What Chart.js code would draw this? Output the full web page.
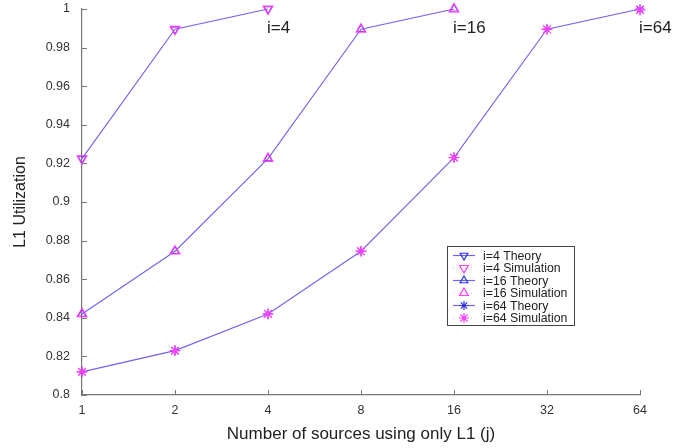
<!DOCTYPE html>
<html><head><meta charset="utf-8">
<script src="https://cdn.jsdelivr.net/npm/chart.js@4.4.1/dist/chart.umd.min.js"></script>
<style>html,body{margin:0;padding:0;background:#fff;}#wrap{width:688px;height:448px;position:relative;}</style>
</head><body><div id="wrap"><canvas id="c" width="688" height="448"></canvas></div>
<script>
const xLabels = ['1','2','4','8','16','32','64'];
const yTickValues = [0.8,0.82,0.84,0.86,0.88,0.9,0.92,0.94,0.96,0.98,1];
const yTickLabels = ['0.8','0.82','0.84','0.86','0.88','0.9','0.92','0.94','0.96','0.98','1'];
const theory4 = [0.9225, 0.9895, 1.0];
const sim4 = [0.9225, 0.9895, 1.0];
const theory16 = [0.842, 0.8745, 0.9225, 0.9895, 1.0];
const sim16 = [0.842, 0.8745, 0.9225, 0.9895, 1.0];
const theory64 = [0.812, 0.823, 0.842, 0.8745, 0.923, 0.9895, 1.0];
const sim64 = [0.812, 0.823, 0.842, 0.8745, 0.923, 0.9895, 0.9995];
const annotations = [
  {text:'i=4', x:'4', y:0.99},
  {text:'i=16', x:'16', y:0.99},
  {text:'i=64', x:'64', y:0.99}
];
const seriesNames = ['i=4 Theory','i=4 Simulation','i=16 Theory','i=16 Simulation','i=64 Theory','i=64 Simulation'];

const LINE = '#6f63ee';
const BLUE = '#2f2fe6';
const MAG = '#ff3cff';
const FONT = "'Liberation Sans', Arial, sans-serif";

function theoryDs(label, data, style, rot){
  return {label, data, borderColor: LINE, borderWidth: 1.1, pointStyle: style, pointRotation: rot,
    pointRadius: 4.5, pointBorderColor: BLUE, pointBackgroundColor: 'rgba(0,0,0,0)', pointBorderWidth: 1,
    showLine: true, tension: 0, order: 2, clip: false};
}
function simDs(label, data, style, rot){
  return {label, data, borderColor: MAG, showLine: false, pointStyle: style, pointRotation: rot,
    pointRadius: 5.5, pointBorderColor: MAG, pointBackgroundColor: 'rgba(0,0,0,0)', pointBorderWidth: 1.3, order: 1, clip: false};
}
const datasets = [
  theoryDs(seriesNames[0], theory4, 'triangle', 180),
  simDs(seriesNames[1], sim4, 'triangle', 180),
  theoryDs(seriesNames[2], theory16, 'triangle', 0),
  simDs(seriesNames[3], sim16, 'triangle', 0),
  theoryDs(seriesNames[4], theory64, 'star', 0),
  simDs(seriesNames[5], sim64, 'star', 0)
];

function drawMarker(ctx, style, rot, x, y, r, color, lw){
  ctx.save();
  ctx.strokeStyle = color; ctx.lineWidth = lw;
  ctx.translate(x, y); ctx.rotate(rot*Math.PI/180);
  ctx.beginPath();
  if (style === 'triangle'){
    for (let k=0;k<3;k++){
      const a = -Math.PI/2 + k*2*Math.PI/3;
      const px = r*Math.cos(a), py = r*Math.sin(a);
      if (k===0) ctx.moveTo(px,py); else ctx.lineTo(px,py);
    }
    ctx.closePath();
  } else {
    for (let k=0;k<4;k++){
      const a = k*Math.PI/4;
      ctx.moveTo(-r*Math.cos(a), -r*Math.sin(a));
      ctx.lineTo(r*Math.cos(a), r*Math.sin(a));
    }
  }
  ctx.stroke();
  ctx.restore();
}

const extras = {
  id: 'extras',
  afterDraw(chart){
    const ctx = chart.ctx;
    const xs = chart.scales.x, ys = chart.scales.y;
    const ca = chart.chartArea;
    ctx.save();
    ctx.strokeStyle = '#777'; ctx.lineWidth = 1;
    ctx.beginPath();
    ys.ticks.forEach((t,i)=>{ const py = Math.round(ys.getPixelForTick(i))+0.5; ctx.moveTo(ca.left, py); ctx.lineTo(ca.left+5, py); });
    xs.ticks.forEach((t,i)=>{ const px = Math.round(xs.getPixelForTick(i))+0.5; ctx.moveTo(px, ca.bottom); ctx.lineTo(px, ca.bottom-5); });
    ctx.stroke();
    ctx.fillStyle = '#222'; ctx.font = '17px ' + FONT; ctx.textBaseline = 'middle'; ctx.textAlign = 'left';
    annotations.forEach(a=>{
      const px = xs.getPixelForValue(xLabels.indexOf(a.x)) - 1;
      const py = ys.getPixelForValue(a.y);
      ctx.fillText(a.text, px, py);
    });
    const bx = ca.left + 365, by = ca.top + 237, bw = 127, bh = 79;
    ctx.fillStyle = '#fff'; ctx.fillRect(bx, by, bw, bh);
    ctx.strokeStyle = '#444'; ctx.lineWidth = 1; ctx.strokeRect(bx+0.5, by+0.5, bw, bh);
    ctx.font = '12.3px ' + FONT; ctx.fillStyle = '#222';
    datasets.forEach((d,i)=>{
      const cy = by + 9.5 + i*12.5;
      const sim = d.showLine === false;
      ctx.save();
      ctx.beginPath();
      if (sim){ ctx.setLineDash([1,5]); ctx.strokeStyle = 'rgba(255,60,255,0.5)'; }
      else { ctx.strokeStyle = LINE; }
      ctx.lineWidth = 1.2;
      ctx.moveTo(bx+6, cy); ctx.lineTo(bx+28, cy); ctx.stroke();
      ctx.restore();
      drawMarker(ctx, d.pointStyle, d.pointRotation, bx+17, cy, sim?5:4.5, sim?MAG:BLUE, 1.2);
      ctx.fillStyle = '#222';
      ctx.fillText(d.label, bx+36, cy+1);
    });
    ctx.restore();
  }
};

new Chart(document.getElementById('c'), {
  type: 'line',
  data: { labels: xLabels, datasets },
  options: {
    responsive: false, animation: false, devicePixelRatio: 1,
    layout: { padding: { top: 9, right: 48, left: 0, bottom: 0 } },
    plugins: { legend: { display: false }, tooltip: { enabled: false } },
    scales: {
      x: {
        type: 'category', offset: false,
        afterFit(s){ s.height = 53; s.paddingLeft = 0; s.paddingRight = 0; },
        grid: { display: true, drawOnChartArea: false, drawTicks: false },
        border: { color: '#777', width: 1.2 },
        ticks: { color: '#333', font: { family: FONT, size: 12.5 }, padding: 8, maxRotation: 0, autoSkip: false },
        title: { display: true, text: 'Number of sources using only L1 (j)', color: '#222', font: { family: FONT, size: 17 }, padding: { top: 0, bottom: 3 } }
      },
      y: {
        min: 0.8, max: 1,
        afterBuildTicks(scale){ scale.ticks = yTickValues.map(v=>({value:v})); },
        afterFit(s){ s.width = 82; s.paddingTop = 0; s.paddingBottom = 0; },
        grid: { display: true, drawOnChartArea: false, drawTicks: false },
        border: { color: '#777', width: 1.2 },
        ticks: { color: '#333', font: { family: FONT, size: 12.5 }, padding: 12,
          callback(v){ const i = yTickValues.findIndex(t=>Math.abs(t-v)<1e-9); return i>=0 ? yTickLabels[i] : ''; } },
        title: { display: true, text: 'L1 Utilization', color: '#222', font: { family: FONT, size: 16 }, padding: { top: 11, bottom: 0 } }
      }
    }
  },
  plugins: [extras]
});
</script></body></html>
